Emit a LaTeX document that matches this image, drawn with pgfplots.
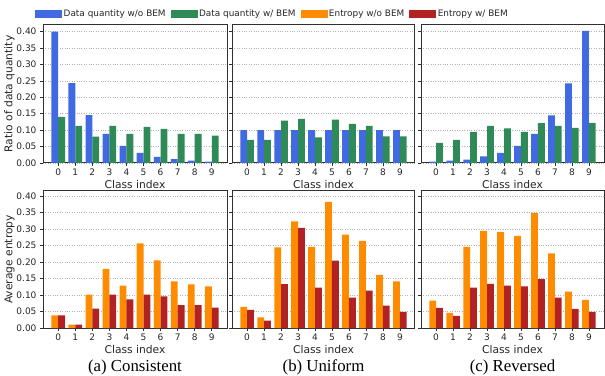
\documentclass[border=0pt]{standalone}
\usepackage{fontspec}
\setmainfont{DejaVu Sans}
\newfontfamily\capfont{Liberation Serif}
\usepackage{pgfplots}
\pgfplotsset{compat=1.18}
\definecolor{cblue}{HTML}{4169E1}
\definecolor{cgreen}{HTML}{2E8B57}
\definecolor{corange}{HTML}{FF8C00}
\definecolor{cred}{HTML}{B22222}
\definecolor{frame}{HTML}{303030}

\pgfplotsset{
  panel/.style={
    scale only axis,
    xmin=-0.89, xmax=9.89, ymin=0,
    xtick={0,1,2,3,4,5,6,7,8,9},
    ytick={0,0.05,0.1,0.15,0.2,0.25,0.3,0.35,0.4},
    yticklabel style={/pgf/number format/fixed,/pgf/number format/fixed zerofill,/pgf/number format/precision=2},
    /pgf/number format/assume math mode=true,
    tick label style={font=\fontsize{9}{9}\selectfont, text=black!85},
    label style={font=\fontsize{10.7}{11}\selectfont, text=black!85},
    ymajorgrids,
    grid style={dotted, black!30, line width=0.7pt},
    axis line style={draw=frame, line width=1pt},
    tick align=outside, major tick length=3pt,
    tick style={draw=frame, line width=0.7pt},
    xtick pos=bottom, ytick pos=left,
    xlabel={Class index},
    xlabel style={yshift=2pt},
    xticklabel style={yshift=1pt},
    ylabel shift=-5pt,
  },
  sbar/.style={ybar, bar width=0.4, draw=none, fill=#1},
}

\begin{document}
\begin{tikzpicture}
\useasboundingbox (0pt,0pt) rectangle (605pt,375pt);

% ---------------- Top row ----------------
\begin{axis}[panel, at={(43pt,212pt)}, anchor=south west, width=184pt, height=138pt, ymax=0.42,
  ylabel={Ratio of data quantity},
  legend style={at={(axis description cs:-0.043,1.08)}, anchor=west, draw=none, fill=none, inner sep=0pt,
    font=\fontsize{8.9}{9}\selectfont, text=black!85,
    /tikz/every even column/.append style={column sep=3pt}},
  legend columns=4]
\addlegendimage{legend image code/.code={\fill[cblue] (0pt,-3.5pt) rectangle (26pt,3.5pt);}}
\addlegendentry{Data quantity w/o BEM}
\addlegendimage{legend image code/.code={\fill[cgreen] (0pt,-3.5pt) rectangle (26pt,3.5pt);}}
\addlegendentry{Data quantity w/ BEM\hspace{10pt}}
\addlegendimage{legend image code/.code={\fill[corange] (0pt,-3.5pt) rectangle (26pt,3.5pt);}}
\addlegendentry{Entropy w/o BEM\hspace{18pt}}
\addlegendimage{legend image code/.code={\fill[cred] (0pt,-3.5pt) rectangle (26pt,3.5pt);}}
\addlegendentry{Entropy w/ BEM}
\addplot[sbar=cblue, bar shift=-0.2] coordinates {(0,0.400) (1,0.243) (2,0.146) (3,0.089) (4,0.052) (5,0.031) (6,0.019) (7,0.012) (8,0.007) (9,0.004)};
\addplot[sbar=cgreen, bar shift=0.2] coordinates {(0,0.140) (1,0.113) (2,0.080) (3,0.113) (4,0.089) (5,0.110) (6,0.104) (7,0.089) (8,0.089) (9,0.083)};
\end{axis}

\begin{axis}[panel, at={(232pt,212pt)}, anchor=south west, width=183pt, height=138pt, ymax=0.42, yticklabels={}]
\addplot[sbar=cblue, bar shift=-0.2] coordinates {(0,0.100) (1,0.100) (2,0.100) (3,0.100) (4,0.100) (5,0.100) (6,0.100) (7,0.100) (8,0.100) (9,0.100)};
\addplot[sbar=cgreen, bar shift=0.2] coordinates {(0,0.070) (1,0.070) (2,0.129) (3,0.134) (4,0.078) (5,0.132) (6,0.119) (7,0.113) (8,0.081) (9,0.081)};
\end{axis}

\begin{axis}[panel, at={(421pt,212pt)}, anchor=south west, width=183pt, height=138pt, ymax=0.42, yticklabels={}]
\addplot[sbar=cblue, bar shift=-0.2] coordinates {(0,0.004) (1,0.007) (2,0.010) (3,0.020) (4,0.031) (5,0.052) (6,0.089) (7,0.145) (8,0.242) (9,0.402)};
\addplot[sbar=cgreen, bar shift=0.2] coordinates {(0,0.061) (1,0.070) (2,0.095) (3,0.113) (4,0.105) (5,0.095) (6,0.121) (7,0.113) (8,0.107) (9,0.122)};
\end{axis}

% ---------------- Bottom row ----------------
\begin{axis}[panel, at={(43pt,47pt)}, anchor=south west, width=184pt, height=137pt, ymax=0.415,
  ylabel={Average entropy}]
\addplot[sbar=corange, bar shift=-0.2] coordinates {(0,0.038) (1,0.010) (2,0.101) (3,0.179) (4,0.128) (5,0.256) (6,0.205) (7,0.141) (8,0.132) (9,0.126)};
\addplot[sbar=cred, bar shift=0.2] coordinates {(0,0.038) (1,0.010) (2,0.059) (3,0.101) (4,0.087) (5,0.101) (6,0.096) (7,0.069) (8,0.069) (9,0.062)};
\end{axis}

\begin{axis}[panel, at={(232pt,47pt)}, anchor=south west, width=183pt, height=137pt, ymax=0.415, yticklabels={}]
\addplot[sbar=corange, bar shift=-0.2] coordinates {(0,0.064) (1,0.032) (2,0.244) (3,0.323) (4,0.246) (5,0.382) (6,0.283) (7,0.264) (8,0.161) (9,0.141)};
\addplot[sbar=cred, bar shift=0.2] coordinates {(0,0.055) (1,0.022) (2,0.133) (3,0.303) (4,0.122) (5,0.204) (6,0.092) (7,0.113) (8,0.068) (9,0.049)};
\end{axis}

\begin{axis}[panel, at={(421pt,47pt)}, anchor=south west, width=183pt, height=137pt, ymax=0.415, yticklabels={}]
\addplot[sbar=corange, bar shift=-0.2] coordinates {(0,0.083) (1,0.046) (2,0.246) (3,0.294) (4,0.291) (5,0.279) (6,0.349) (7,0.226) (8,0.110) (9,0.085)};
\addplot[sbar=cred, bar shift=0.2] coordinates {(0,0.061) (1,0.037) (2,0.122) (3,0.134) (4,0.128) (5,0.126) (6,0.148) (7,0.092) (8,0.058) (9,0.049)};
\end{axis}

% ---------------- Captions ----------------
\node[anchor=base, font=\capfont\fontsize{16.8}{17}\selectfont] at (135pt,4pt) {(a) Consistent};
\node[anchor=base, font=\capfont\fontsize{16.8}{17}\selectfont] at (323.5pt,4pt) {(b) Uniform};
\node[anchor=base, font=\capfont\fontsize{16.8}{17}\selectfont] at (512.5pt,4pt) {(c) Reversed};
\end{tikzpicture}
\end{document}
